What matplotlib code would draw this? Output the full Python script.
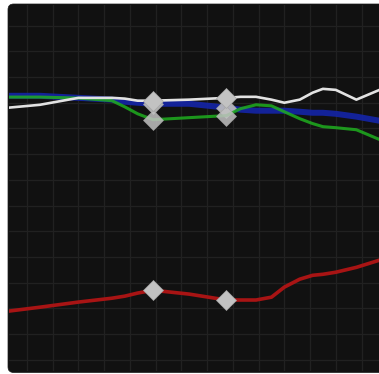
import numpy as np
import matplotlib
matplotlib.use('Agg')
import matplotlib.pyplot as plt
from matplotlib.patches import FancyBboxPatch

# x positions (grid units) shared by every series
x = [-0.7, 0.5, 2.0, 3.3, 3.8, 4.3, 4.9, 6.3, 7.75, 8.3, 8.9, 9.5,
     10.0, 10.6, 11.1, 11.5, 12.0, 12.8, 13.7]

white = [9.81, 9.92, 10.19, 10.19, 10.16, 10.08, 10.08, 10.12, 10.19, 10.23,
         10.23, 10.12, 10.0, 10.12, 10.39, 10.54, 10.50, 10.12, 10.50]
blue = [10.27, 10.27, 10.19, 10.12, 10.04, 10.0, 9.96, 9.96, 9.81, 9.73,
        9.69, 9.69, 9.69, 9.65, 9.61, 9.61, 9.57, 9.46, 9.30]
green = [10.22, 10.22, 10.18, 10.08, 9.84, 9.57, 9.34, 9.42, 9.50, 9.77,
         9.92, 9.88, 9.65, 9.38, 9.19, 9.07, 9.03, 8.95, 8.57]
red = [1.90, 2.05, 2.25, 2.40, 2.48, 2.60, 2.71, 2.56, 2.33, 2.33,
       2.33, 2.44, 2.83, 3.14, 3.29, 3.33, 3.41, 3.60, 3.88]

marker_idx = [6, 8]

W, H = 379, 374
fig = plt.figure(figsize=(W / 100, H / 100), dpi=100)
fig.patch.set_facecolor('white')

# dark rounded panel
panel = FancyBboxPatch((8 / W, 1.5 / H), (W + 20 - 8) / W, 368.5 / H,
                       boxstyle='round,pad=0,rounding_size=0.015',
                       transform=fig.transFigure, fc='#111111', ec='#1a1a1a',
                       lw=0.5, zorder=-5)
fig.patches.append(panel)

ax = fig.add_axes([9 / W, 3 / H, (W - 9) / W, 366 / H])
ax.set_zorder(2)
ax.set_facecolor('none')
ax.set_xlim(-0.7, 13.68)
ax.set_ylim(-0.43, 13.8)
ax.set_xticks(np.arange(0, 14))
ax.set_yticks(np.arange(0, 14))
ax.grid(True, color='#212121', lw=0.9)
ax.tick_params(length=0, labelbottom=False, labelleft=False)
for s in ax.spines.values():
    s.set_visible(False)

mk = dict(marker='D', markevery=marker_idx, ms=10, mfc='#c2c2c2', mec='#a5a5a5', mew=0.5)

ax.plot(x, blue, color='#1424a8', lw=4.3, alpha=0.9, zorder=2,
        solid_joinstyle='round', solid_capstyle='round', **mk)
ax.plot(x, green, color='#1fae1f', lw=2.2, alpha=0.85, zorder=3,
        solid_joinstyle='round', **mk)
ax.plot(x, white, color='#e2e2e2', lw=1.9, zorder=4,
        solid_joinstyle='round', **mk)
ax.plot(x, red, color='#a81414', lw=2.6, zorder=3,
        solid_joinstyle='round', **mk)

fig.savefig('out.png', dpi=100, facecolor='white')
